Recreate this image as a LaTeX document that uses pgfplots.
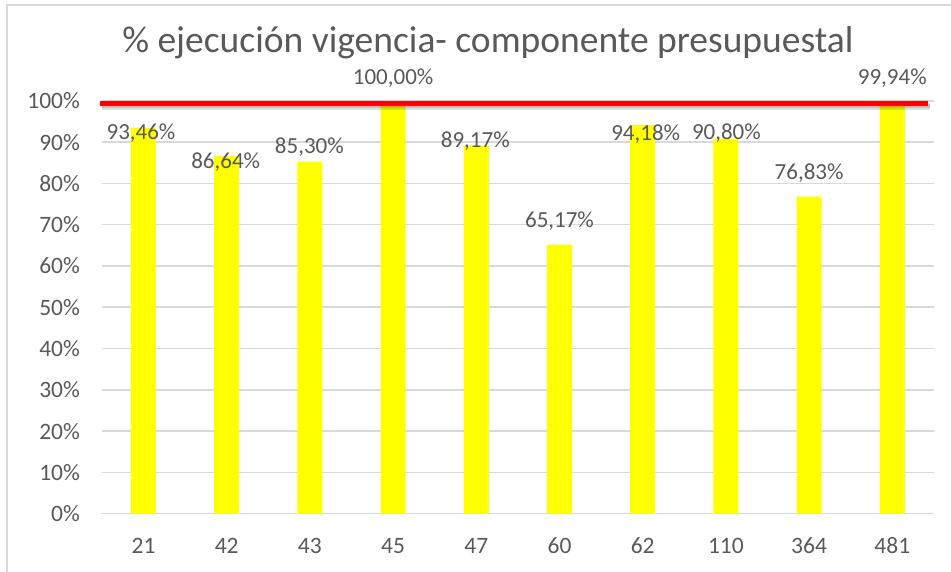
\documentclass[border=0pt]{standalone}
\usepackage{pgfplots}
\pgfplotsset{compat=1.18}
\usepackage{pgfplotstable}
\usepackage{fontspec}
\setmainfont{Carlito}
\definecolor{txt}{HTML}{595959}
\definecolor{grd}{HTML}{D9D9D9}
\definecolor{barY}{HTML}{FFFF00}
\definecolor{lineR}{HTML}{FF0000}

\pgfplotstableread{
x y dy dx
0 93.46 -12.0 -2.5
1 86.64 -11.9 -1
2 85.30 8.6 -0.5
3 100.00 16 0
4 89.17 -2.3 -1
5 65.17 16.7 0
6 94.18 -15 3
7 90.80 -1 0.5
8 76.83 16.6 0
9 99.94 16.25 0
}\datatable

\begin{document}
\begin{tikzpicture}
\useasboundingbox (-101.9pt,-57.5pt) rectangle (849.1pt,513.5pt);
\draw[grd, line width=1.5pt] (-94.9pt,-80pt) -- (-94.9pt,508.5pt) -- (880pt,508.5pt);
\node[txt, font=\fontsize{37.5pt}{42pt}\selectfont, anchor=base] at (386pt,461pt) {\% ejecución vigencia- componente presupuestal};
\begin{axis}[
  at={(0pt,0pt)}, anchor=south west,
  scale only axis, width=832pt, height=412.5pt,
  xmin=-0.5, xmax=9.5, ymin=0, ymax=100,
  clip=false,
  axis line style={draw=none},
  major tick length=0pt,
  tick style={draw=none},
  ymajorgrids,
  grid style={grd, line width=1.5pt},
  ytick={0,10,...,100},
  xtick={0,...,9},
  xticklabels={21,42,43,45,47,60,62,110,364,481},
  /pgf/number format/assume math mode=true,
  yticklabel={\pgfmathprintnumber[fixed,precision=0]{\tick}\%},
  ticklabel style={font=\fontsize{23.5pt}{27pt}\selectfont, text=txt, inner sep=0pt, outer sep=0pt},
  yticklabel style={anchor=base east, xshift=-22pt, yshift=-8pt},
  xticklabel style={anchor=base, yshift=-39.5pt},
]
\addplot[ybar, bar width=25pt, bar shift=0pt, fill=barY, draw=none,
  visualization depends on={\thisrow{dy} \as \dy},
  visualization depends on={\thisrow{dx} \as \dx},
  nodes near coords={\pgfmathprintnumber[fixed,fixed zerofill,precision=2,use comma]{\pgfplotspointmeta}\%},
  every node near coord/.append style={anchor=base, font=\fontsize{23pt}{27pt}\selectfont, text=txt, inner sep=0pt, outer sep=0pt, yshift=\dy pt, xshift=\dx pt},
] table[x=x, y=y] {\datatable};
\addplot[black, opacity=0.12, line width=7pt, line cap=butt, xshift=2pt, yshift=-3pt, forget plot] coordinates {(-0.523,99.39) (9.43,99.39)};
\addplot[black, opacity=0.15, line width=4.5pt, line cap=butt, xshift=2pt, yshift=-2.5pt, forget plot] coordinates {(-0.523,99.39) (9.43,99.39)};
\addplot[lineR, line width=5.5pt, line cap=butt] coordinates {(-0.523,99.39) (9.43,99.39)};
\end{axis}
\end{tikzpicture}
\end{document}
